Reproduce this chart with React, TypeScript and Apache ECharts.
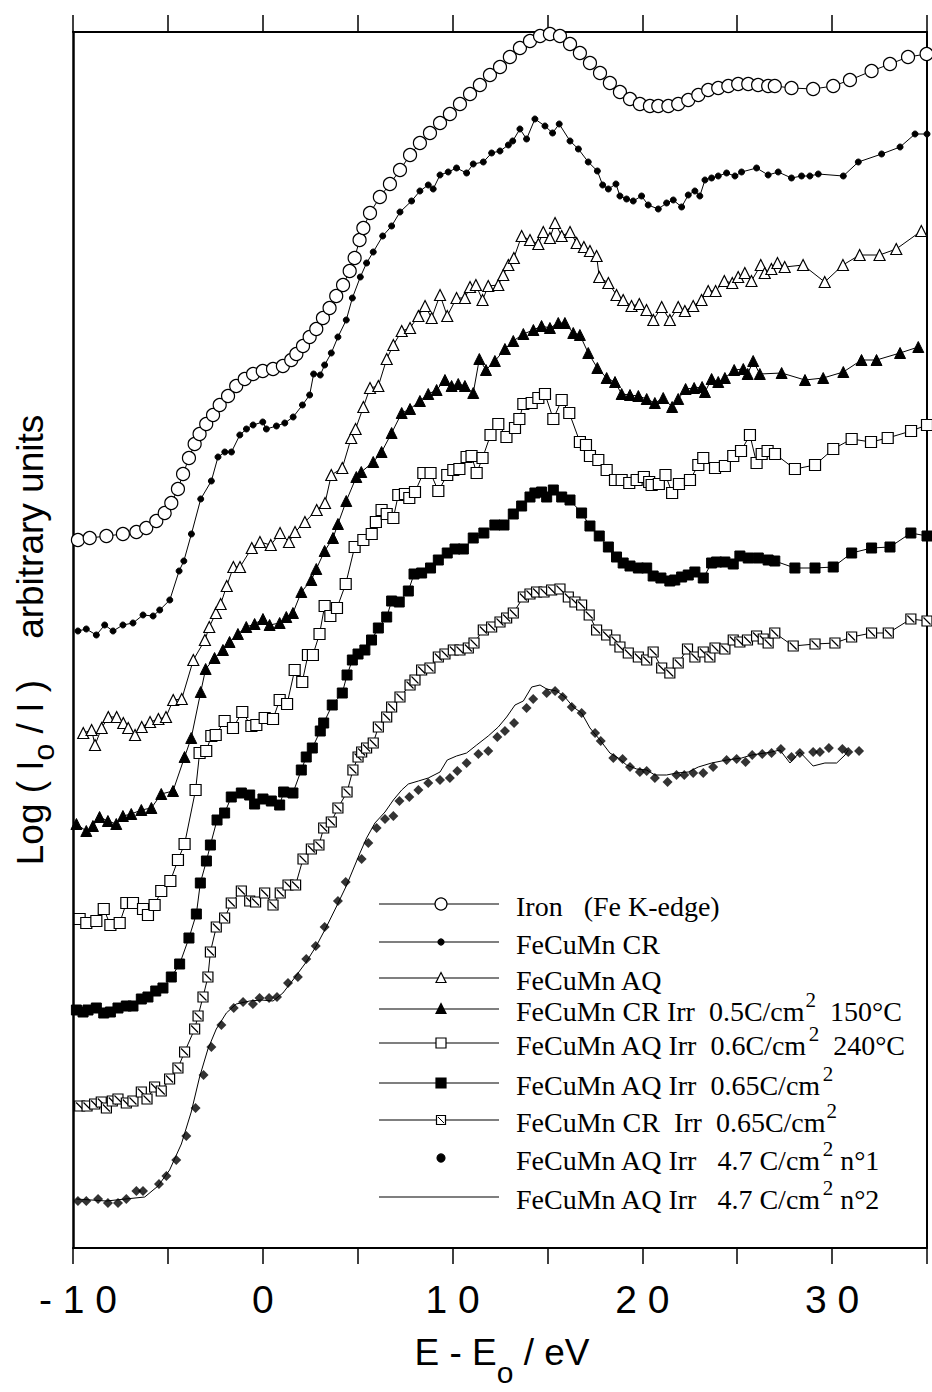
import React, { useEffect, useRef } from "react";
import * as echarts from "echarts";

// ---- Data (x: E - E0 in eV, y: Log(I0/I) in arbitrary, offset units) ----
const IRON: number[][] = [
  [-9.74, 708], [-9.12, 710], [-8.24, 712], [-7.37, 714], [-6.66, 716], [-6.14, 720], [-5.61, 727],
  [-5.17, 735], [-4.82, 745], [-4.47, 759], [-4.2, 774], [-3.89, 790], [-3.59, 804], [-3.33, 814],
  [-2.98, 824], [-2.62, 833], [-2.27, 843], [-1.83, 852], [-1.4, 862], [-0.95, 869], [-0.51, 874],
  [0, 877], [0.54, 879], [1.06, 882], [1.5, 888], [1.77, 894], [2.12, 902], [2.47, 911], [2.82, 919],
  [3.17, 930], [3.52, 940], [3.87, 952], [4.23, 963], [4.58, 977], [4.84, 990], [5.1, 1008],
  [5.3, 1020], [5.65, 1035], [6.17, 1051], [6.7, 1064], [7.23, 1078], [7.76, 1093], [8.28, 1105],
  [8.81, 1115], [9.34, 1125], [9.86, 1134], [10.39, 1144], [10.92, 1154], [11.44, 1163],
  [11.97, 1173], [12.5, 1181], [13.02, 1191], [13.55, 1200], [14.08, 1207], [14.61, 1212],
  [15.13, 1214], [15.66, 1212], [16.19, 1204], [16.71, 1195], [17.24, 1185], [17.77, 1175],
  [18.29, 1165], [18.82, 1156], [19.35, 1149], [19.87, 1144], [20.4, 1142], [20.84, 1142],
  [21.37, 1142], [21.89, 1144], [22.42, 1148], [22.95, 1153], [23.47, 1158], [24.0, 1160],
  [24.53, 1162], [25.05, 1164], [25.58, 1164], [26.1, 1163], [26.63, 1162], [26.98, 1162],
  [27.86, 1160], [29.0, 1159], [30.06, 1162], [30.94, 1168], [32.08, 1177], [33.05, 1184],
  [34.0, 1191], [34.98, 1194],
];

const CR: number[][] = [
  [-9.74, 617], [-9.3, 619], [-8.77, 613], [-8.33, 623], [-7.89, 617], [-7.37, 623], [-6.84, 625],
  [-6.31, 633], [-5.78, 632], [-5.43, 638], [-4.9, 648], [-4.41, 677], [-4.16, 687], [-3.76, 714],
  [-3.27, 749], [-2.71, 767], [-2.36, 791], [-2.0, 796], [-1.65, 796], [-1.21, 813], [-0.86, 819],
  [-0.51, 823], [0.0, 826], [0.19, 819], [0.72, 822], [1.16, 825], [1.6, 831], [2.09, 843],
  [2.47, 853], [2.68, 874], [3.03, 873], [3.26, 883], [3.61, 895], [3.96, 911], [4.4, 928],
  [4.72, 950], [5.14, 971], [5.47, 985], [5.82, 996], [6.32, 1012], [6.79, 1022], [7.23, 1036],
  [7.84, 1047], [8.28, 1057], [8.72, 1063], [8.98, 1059], [9.34, 1073], [9.77, 1076], [10.21, 1080],
  [10.74, 1075], [11.09, 1084], [11.62, 1086], [12.06, 1095], [12.5, 1097], [12.94, 1103],
  [13.17, 1107], [13.55, 1119], [13.9, 1109], [14.34, 1129], [14.87, 1122], [15.27, 1115],
  [15.62, 1124], [16.19, 1107], [16.63, 1099], [17.15, 1086], [17.63, 1077], [17.91, 1063],
  [18.21, 1059], [18.61, 1064], [18.82, 1052], [19.17, 1049], [19.52, 1047], [19.96, 1052],
  [20.31, 1043], [20.84, 1039], [21.28, 1045], [21.63, 1048], [22.07, 1041], [22.42, 1053],
  [22.77, 1057], [23.03, 1052], [23.3, 1068], [23.65, 1070], [24.0, 1072], [24.44, 1075],
  [24.88, 1072], [25.23, 1076], [26.02, 1080], [26.63, 1073], [27.16, 1076], [27.86, 1070],
  [28.39, 1072], [28.83, 1072], [29.27, 1074], [30.59, 1072], [31.38, 1086], [32.61, 1094],
  [33.58, 1101], [34.37, 1114], [35.0, 1114],
];

const AQ: number[][] = [
  [-9.46, 515], [-9.02, 518], [-8.84, 503], [-8.49, 520], [-8.14, 531], [-7.7, 531], [-7.35, 525],
  [-7.09, 520], [-6.73, 513], [-6.38, 521], [-5.94, 526], [-5.5, 529], [-5.1, 531], [-4.72, 548],
  [-4.27, 549], [-3.66, 588], [-3.05, 608], [-2.82, 621], [-2.47, 635], [-2.22, 644], [-1.9, 662],
  [-1.55, 681], [-1.2, 681], [-0.58, 700], [-0.15, 706], [0.42, 703], [0.91, 715], [1.38, 706],
  [1.7, 716], [2.22, 726], [2.84, 738], [3.28, 745], [3.61, 773], [4.19, 780], [4.66, 810],
  [4.89, 819], [5.3, 841], [5.65, 860], [6.09, 862], [6.53, 889], [6.88, 903], [7.32, 917],
  [7.76, 920], [8.2, 932], [8.55, 942], [8.9, 930], [9.34, 953], [9.72, 932], [10.21, 950],
  [10.65, 950], [10.92, 961], [11.23, 963], [11.58, 948], [11.88, 962], [12.41, 963], [12.67, 973],
  [12.94, 983], [13.23, 990], [13.64, 1012], [14.08, 1008], [14.52, 1004], [14.78, 1016],
  [15.13, 1010], [15.4, 1025], [15.75, 1012], [16.19, 1016], [16.54, 1005], [16.92, 1001],
  [17.24, 997], [17.59, 992], [17.73, 971], [18.21, 965], [18.64, 953], [18.99, 948], [19.43, 942],
  [19.84, 944], [20.22, 938], [20.58, 928], [21.02, 941], [21.45, 928], [21.89, 941], [22.24, 937],
  [22.68, 942], [23.12, 948], [23.47, 957], [23.86, 957], [24.32, 967], [24.74, 965], [25.05, 971],
  [25.4, 975], [25.75, 967], [26.24, 983], [26.45, 975], [26.8, 979], [27.12, 985], [27.5, 981],
  [28.47, 983], [29.61, 966], [30.57, 983], [31.45, 993], [32.5, 993], [33.38, 999], [34.7, 1017],
];

const CR_IRR_05: number[][] = [
  [-9.82, 424], [-9.3, 417], [-8.95, 422], [-8.6, 431], [-8.16, 427], [-7.72, 424], [-7.37, 432],
  [-6.93, 434], [-6.4, 438], [-5.87, 440], [-5.35, 454], [-4.73, 457], [-4.12, 491], [-3.77, 510],
  [-3.27, 556], [-3.01, 579], [-2.54, 590], [-2.1, 598], [-1.75, 606], [-1.31, 614], [-0.87, 621],
  [-0.43, 624], [0.01, 629], [0.36, 623], [0.89, 625], [1.24, 631], [1.59, 635], [2.03, 656],
  [2.56, 668], [2.82, 679], [3.26, 697], [3.7, 710], [3.96, 724], [4.4, 747], [4.93, 771],
  [5.19, 776], [5.82, 786], [6.26, 796], [6.79, 815], [7.32, 835], [7.76, 839], [8.28, 847],
  [8.72, 854], [9.16, 858], [9.6, 868], [9.95, 862], [10.3, 864], [10.65, 862], [11.09, 855],
  [11.41, 889], [11.76, 878], [12.23, 887], [12.76, 899], [13.2, 907], [13.73, 914], [14.26, 918],
  [14.69, 922], [15.13, 920], [15.57, 925], [15.92, 925], [16.36, 915], [16.71, 913], [17.15, 895],
  [17.63, 880], [18.12, 870], [18.56, 866], [18.91, 854], [19.35, 853], [19.79, 852], [20.23, 849],
  [20.66, 845], [21.1, 850], [21.57, 841], [21.89, 849], [22.28, 859], [22.73, 860], [23.15, 861],
  [23.3, 856], [23.65, 869], [24.0, 866], [24.35, 870], [24.84, 878], [25.32, 879], [25.55, 874],
  [25.84, 887], [26.19, 874], [27.34, 875], [28.57, 868], [29.53, 870], [30.59, 876], [31.55, 888],
  [32.34, 888], [33.58, 895], [34.54, 901],
];

const AQ_IRR_06: number[][] = [
  [-9.65, 329], [-9.3, 325], [-8.77, 327], [-8.38, 339], [-8.03, 323], [-7.54, 325], [-7.19, 345],
  [-6.84, 345], [-6.31, 339], [-6.05, 333], [-5.7, 343], [-5.35, 357], [-4.87, 367], [-4.47, 388],
  [-4.12, 404], [-3.54, 458], [-3.33, 495], [-2.98, 497], [-2.71, 512], [-2.48, 513], [-2.01, 527],
  [-1.57, 520], [-1.08, 536], [-0.6, 522], [-0.34, 523], [0.1, 530], [0.54, 529], [0.89, 548],
  [1.28, 544], [1.68, 578], [2.08, 566], [2.38, 593], [2.64, 593], [2.99, 614], [3.26, 642],
  [3.56, 632], [3.91, 640], [4.37, 664], [4.84, 701], [5.3, 708], [5.74, 714], [5.96, 726],
  [6.26, 738], [6.53, 734], [6.88, 730], [7.14, 753], [7.49, 754], [7.72, 750], [8.02, 756],
  [8.46, 775], [8.84, 775], [9.25, 757], [9.72, 773], [10.04, 778], [10.36, 779], [10.74, 791],
  [11.0, 792], [11.27, 775], [11.58, 790], [12.0, 813], [12.41, 824], [12.84, 811], [13.29, 820],
  [13.52, 829], [13.73, 844], [14.17, 845], [14.52, 850], [14.87, 854], [15.31, 829], [15.75, 848],
  [16.15, 835], [16.71, 806], [17.03, 803], [17.24, 792], [17.68, 788], [18.12, 778], [18.56, 768],
  [18.91, 768], [19.31, 765], [19.7, 768], [20.08, 771], [20.36, 766], [20.49, 763], [20.87, 764],
  [21.22, 773], [21.57, 755], [21.93, 764], [22.51, 768], [22.95, 783], [23.21, 790], [23.83, 780],
  [24.35, 782], [24.79, 792], [25.2, 797], [25.67, 813], [26.02, 785], [26.29, 794], [26.6, 797],
  [26.99, 794], [28.04, 779], [29.1, 783], [30.06, 799], [31.03, 809], [32.05, 806], [32.93, 810],
  [34.16, 817], [35.0, 823],
];

const AQ_IRR_065: number[][] = [
  [-9.82, 238], [-9.47, 236], [-9.21, 238], [-8.77, 240], [-8.38, 235], [-8.03, 236], [-7.63, 240],
  [-7.19, 242], [-6.84, 242], [-6.4, 249], [-6.05, 251], [-5.64, 257], [-5.26, 260], [-4.82, 271],
  [-4.38, 284], [-3.89, 310], [-3.5, 334], [-3.29, 365], [-2.97, 387], [-2.76, 403], [-2.41, 428],
  [-2.01, 435], [-1.66, 451], [-1.13, 455], [-0.69, 453], [-0.43, 444], [0.01, 449], [0.45, 447],
  [0.89, 443], [1.1, 456], [1.59, 455], [2.03, 478], [2.29, 491], [2.61, 500], [3.03, 517],
  [3.21, 525], [3.66, 543], [4.19, 555], [4.44, 573], [4.72, 588], [5.02, 594], [5.38, 598],
  [5.73, 608], [6.09, 620], [6.53, 631], [6.79, 647], [7.19, 646], [7.67, 657], [7.97, 674],
  [8.37, 675], [8.84, 680], [9.25, 688], [9.72, 695], [10.13, 699], [10.57, 699], [11.09, 710],
  [11.65, 715], [12.23, 723], [12.71, 723], [13.2, 734], [13.64, 742], [14.08, 751], [14.34, 755],
  [14.69, 756], [14.96, 751], [15.31, 758], [15.75, 751], [16.19, 748], [16.8, 735], [17.24, 722],
  [17.73, 712], [18.21, 701], [18.64, 691], [18.99, 685], [19.35, 682], [19.79, 680], [20.23, 680],
  [20.57, 672], [20.98, 670], [21.45, 667], [21.71, 668], [22.07, 671], [22.42, 673], [22.77, 676],
  [23.21, 670], [23.65, 685], [23.91, 686], [24.35, 686], [24.79, 684], [25.14, 692], [25.58, 690],
  [26.11, 690], [26.63, 688], [26.98, 687], [28.04, 680], [29.1, 680], [30.06, 681], [31.03, 695],
  [32.08, 700], [33.05, 701], [34.15, 715], [35.0, 712],
];

const CR_IRR_065: number[][] = [
  [-9.65, 142], [-9.26, 142], [-8.86, 144], [-8.51, 146], [-8.24, 140], [-7.93, 147], [-7.63, 149],
  [-7.19, 145], [-6.84, 147], [-6.4, 156], [-6.1, 149], [-5.7, 161], [-5.35, 157], [-4.91, 169],
  [-4.47, 180], [-4.12, 196], [-3.59, 219], [-3.41, 232], [-3.15, 251], [-2.89, 271], [-2.76, 296],
  [-2.45, 321], [-2.01, 330], [-1.66, 345], [-1.13, 357], [-0.69, 347], [-0.38, 346], [0.1, 355],
  [0.54, 343], [0.92, 355], [1.33, 363], [1.73, 363], [2.12, 389], [2.56, 399], [2.96, 403],
  [3.21, 420], [3.61, 426], [3.96, 440], [4.44, 456], [4.75, 478], [5.02, 491], [5.21, 496],
  [5.47, 500], [5.82, 505], [6.09, 521], [6.53, 531], [6.79, 541], [7.23, 551], [7.76, 563],
  [8.02, 568], [8.37, 578], [8.81, 580], [9.25, 591], [9.6, 594], [10.04, 598], [10.39, 598],
  [10.83, 600], [11.13, 605], [11.62, 618], [12.06, 621], [12.5, 626], [12.85, 630], [13.2, 635],
  [13.73, 651], [14.08, 654], [14.43, 656], [14.82, 656], [15.22, 658], [15.66, 659], [16.1, 651],
  [16.45, 646], [16.8, 643], [17.2, 633], [17.59, 618], [18.12, 613], [18.56, 608], [18.82, 601],
  [19.26, 595], [19.79, 591], [20.23, 588], [20.57, 596], [21.02, 580], [21.45, 575], [21.89, 585],
  [22.38, 599], [22.77, 591], [23.21, 596], [23.56, 591], [23.83, 600], [24.35, 599], [24.79, 608],
  [25.14, 606], [25.54, 608], [26.02, 612], [26.37, 609], [26.63, 605], [26.98, 615], [27.95, 602],
  [29.1, 604], [30.15, 605], [31.03, 611], [32.08, 615], [32.96, 615], [34.15, 629], [35.0, 627],
];

const AQ_IRR_47_N1: number[][] = [
  [-9.74, 47], [-9.3, 47], [-8.68, 49], [-8.16, 45], [-7.63, 45], [-7.19, 49], [-6.66, 57],
  [-6.31, 57], [-5.47, 64], [-5.08, 72], [-4.56, 88], [-4.03, 112], [-3.54, 140], [-3.12, 173],
  [-2.71, 201], [-2.18, 223], [-1.53, 240], [-1.04, 246], [-0.52, 244], [-0.17, 250], [0.33, 250],
  [0.75, 251], [1.33, 265], [1.85, 271], [2.29, 289], [2.79, 302], [3.26, 321], [3.96, 347],
  [4.37, 366], [5.21, 389], [5.56, 405], [6.0, 420], [6.44, 429], [6.88, 432], [7.2, 447],
  [7.72, 451], [8.2, 458], [8.72, 465], [9.34, 468], [9.86, 470], [10.25, 477], [10.74, 485],
  [11.36, 494], [11.88, 497], [12.36, 511], [12.76, 517], [13.24, 525], [13.9, 540], [14.25, 549],
  [14.96, 555], [15.4, 557], [15.8, 551], [16.28, 541], [16.8, 535], [17.51, 515], [17.81, 507],
  [18.47, 490], [18.96, 489], [19.35, 481], [19.87, 476], [20.23, 477], [20.66, 470], [21.33, 466],
  [21.8, 473], [22.21, 473], [22.68, 475], [23.21, 475], [23.73, 481], [24.44, 488], [24.97, 489],
  [25.44, 486], [25.79, 493], [26.32, 494], [26.81, 495], [27.3, 499], [27.86, 491], [28.3, 495],
  [29.0, 496], [29.36, 496], [29.83, 500], [30.54, 499], [30.85, 496], [31.42, 497],
];

const AQ_IRR_47_N2: number[][] = [
  [-9.82, 49], [-8.24, 47], [-6.22, 51], [-5.52, 62], [-4.91, 78], [-4.29, 104], [-3.77, 136],
  [-3.33, 171], [-2.89, 199], [-2.45, 219], [-1.92, 235], [-1.4, 244], [-0.69, 247], [-0.08, 248],
  [0.54, 247], [1.06, 255], [1.59, 268], [2.29, 286], [2.82, 302], [3.35, 321], [3.87, 341],
  [4.4, 362], [5.12, 395], [5.47, 410], [5.91, 425], [6.44, 436], [6.88, 448], [7.32, 458],
  [7.67, 464], [8.2, 467], [8.72, 470], [9.34, 476], [9.72, 488], [10.21, 492], [10.74, 495],
  [11.27, 503], [11.88, 512], [12.41, 521], [12.85, 531], [13.29, 543], [13.73, 547], [14.17, 561],
  [14.61, 563], [14.96, 559], [15.48, 557], [15.92, 551], [16.36, 541], [16.8, 535], [17.24, 520],
  [17.77, 508], [18.29, 495], [18.73, 490], [19.17, 483], [19.7, 479], [20.23, 478], [20.66, 473],
  [21.28, 473], [21.8, 475], [22.42, 476], [22.95, 481], [23.65, 485], [24.44, 488], [25.23, 490],
  [25.76, 493], [26.81, 496], [27.25, 498], [27.78, 485], [28.3, 496], [29.0, 482], [29.62, 485],
  [30.24, 485], [30.68, 493], [30.85, 498],
];

const X_TICK_LABELS: [number, string][] = [
  [-10, "- 1 0"], [0, "0"], [10, "1 0"], [20, "2 0"], [30, "3 0"],
];

const SERIES_NAMES = [
  "Iron (Fe K-edge)", "FeCuMn CR", "FeCuMn AQ", "FeCuMn CR Irr 0.5C/cm2 150°C",
  "FeCuMn AQ Irr 0.6C/cm2 240°C", "FeCuMn AQ Irr 0.65C/cm2", "FeCuMn CR Irr 0.65C/cm2",
  "FeCuMn AQ Irr 4.7 C/cm2 n°1", "FeCuMn AQ Irr 4.7 C/cm2 n°2",
];

// legend labels; "^" marks the superscript 2
const LEGEND_LABELS = [
  "Iron   (Fe K-edge)",
  "FeCuMn CR",
  "FeCuMn AQ",
  "FeCuMn CR Irr  0.5C/cm^2  150°C",
  "FeCuMn AQ Irr  0.6C/cm^2  240°C",
  "FeCuMn AQ Irr  0.65C/cm^2",
  "FeCuMn CR  Irr  0.65C/cm^2",
  "FeCuMn AQ Irr   4.7 C/cm^2 n°1",
  "FeCuMn AQ Irr   4.7 C/cm^2 n°2",
];

const DIAG_SQUARE = "path://M0 0H10V10H0Z M1.5 1.5L8.5 8.5";

type Mk = { symbol: string; size: number; filled: boolean; line: boolean; scatter?: boolean };
const MARKERS: Mk[] = [
  { symbol: "circle", size: 13, filled: false, line: true },
  { symbol: "circle", size: 6, filled: true, line: true },
  { symbol: "triangle", size: 11, filled: false, line: true },
  { symbol: "triangle", size: 11, filled: true, line: true },
  { symbol: "rect", size: 11, filled: false, line: true },
  { symbol: "rect", size: 10, filled: true, line: true },
  { symbol: DIAG_SQUARE, size: 10, filled: false, line: true },
  { symbol: "diamond", size: 10, filled: true, line: false, scatter: true },
  { symbol: "none", size: 0, filled: false, line: true },
];

const DATA = [IRON, CR, AQ, CR_IRR_05, AQ_IRR_06, AQ_IRR_065, CR_IRR_065, AQ_IRR_47_N1, AQ_IRR_47_N2];

const LEGEND_ROWS_Y = [904, 942, 978, 1009, 1043, 1083, 1120, 1158, 1197];

const LEGEND_FONT = "28px 'Liberation Serif'";
const SUP_FONT = "21px 'Liberation Serif'";

function measure(font: string, s: string): number {
  const c = document.createElement("canvas").getContext("2d");
  if (!c) return s.length * 13;
  c.font = font;
  return c.measureText(s).width;
}

function legendMarker(i: number, x: number, y: number): any[] {
  const black = "#000";
  const out: any[] = [];
  const st = (filled: boolean) => ({ fill: filled ? black : "#fff", stroke: black, lineWidth: 1.2 });
  switch (i) {
    case 0:
      out.push({ type: "circle", shape: { cx: x, cy: y, r: 6 }, style: st(false) });
      break;
    case 1:
      out.push({ type: "circle", shape: { cx: x, cy: y, r: 3 }, style: st(true) });
      break;
    case 2:
    case 3:
      out.push({ type: "polygon", shape: { points: [[x, y - 5.5], [x + 5, y + 4.5], [x - 5, y + 4.5]] }, style: st(i === 3) });
      break;
    case 4:
    case 5:
      out.push({ type: "rect", shape: { x: x - 5, y: y - 5, width: 10, height: 10 }, style: st(i === 5) });
      break;
    case 6:
      out.push({ type: "rect", shape: { x: x - 4.5, y: y - 4.5, width: 9, height: 9 }, style: st(false) });
      out.push({ type: "line", shape: { x1: x - 3, y1: y - 3, x2: x + 3, y2: y + 3 }, style: { stroke: black, lineWidth: 1 } });
      break;
    case 7:
      out.push({ type: "circle", shape: { cx: x, cy: y, r: 4 }, style: st(true) });
      break;
  }
  return out;
}

export default function App() {
  const ref = useRef<HTMLDivElement>(null);
  useEffect(() => {
    if (!ref.current) return;
    const chart = echarts.init(ref.current, null, { renderer: "svg" });

    const series: any[] = DATA.map((d, i) => {
      const m = MARKERS[i];
      if (m.scatter) {
        return {
          name: SERIES_NAMES[i], type: "scatter", data: d, symbol: m.symbol, symbolSize: m.size,
          itemStyle: { color: "#000" }, silent: true, z: 3,
        };
      }
      return {
        name: SERIES_NAMES[i], type: "line", data: d,
        symbol: m.symbol, symbolSize: m.size, showSymbol: m.symbol !== "none",
        lineStyle: { color: "#000", width: 1 },
        itemStyle: m.filled
          ? { color: "#000", borderColor: "#000", borderWidth: 1 }
          : { color: "#fff", borderColor: "#000", borderWidth: 1.2 },
        silent: true, z: 2,
      };
    });

    const graphic: any[] = [];
    LEGEND_ROWS_Y.forEach((y, i) => {
      if (MARKERS[i].line) {
        graphic.push({ type: "line", shape: { x1: 379, y1: y, x2: 499, y2: y }, style: { stroke: "#000", lineWidth: 1.2 } });
      }
      legendMarker(i, 441, y).forEach((g) => graphic.push(g));
      const parts = LEGEND_LABELS[i].split("^");
      let x = 516;
      const ty = y + 2;
      graphic.push({
        type: "text", x, y: ty,
        style: { text: parts[0], fill: "#000", font: LEGEND_FONT, align: "left", verticalAlign: "middle" },
      });
      if (parts.length > 1) {
        x += measure(LEGEND_FONT, parts[0]);
        const sup = parts[1].charAt(0);
        const rest = parts[1].slice(1);
        graphic.push({
          type: "text", x: x + 1, y: ty - 11,
          style: { text: sup, fill: "#000", font: SUP_FONT, align: "left", verticalAlign: "middle" },
        });
        x += 1 + measure(SUP_FONT, sup);
        graphic.push({
          type: "text", x, y: ty,
          style: { text: rest, fill: "#000", font: LEGEND_FONT, align: "left", verticalAlign: "middle" },
        });
      }
    });
    // axis titles
    graphic.push({
      type: "text", x: 502, y: 1352,
      style: {
        text: "E - E{b|o} / eV", fill: "#000", font: "37px 'Liberation Sans'",
        align: "center", verticalAlign: "middle",
        rich: { b: { fontSize: 30, fontFamily: "Liberation Sans", padding: [40, 0, 0, 0] } },
      },
    });
    graphic.push({
      type: "text", x: 30, y: 640, rotation: Math.PI / 2,
      style: {
        text: "Log ( I{b|o} / I )    arbitrary units", fill: "#000", font: "37px 'Liberation Sans'",
        align: "center", verticalAlign: "middle",
        rich: { b: { fontSize: 30, fontFamily: "Liberation Sans", padding: [26, 0, 0, 0] } },
      },
    });

    const labelMap: Record<string, string> = {};
    X_TICK_LABELS.forEach(([v, s]) => (labelMap[String(v)] = s));

    chart.setOption({
      animation: false,
      backgroundColor: "#fff",
      grid: { left: 73, right: 5, top: 32, bottom: 144, containLabel: false },
      xAxis: [
        {
          type: "value", min: -10, max: 35, interval: 5, position: "bottom",
          axisLine: { onZero: false, lineStyle: { color: "#000", width: 2 } },
          axisTick: { length: 16, lineStyle: { color: "#000", width: 1.5 } },
          splitLine: { show: false },
          axisLabel: {
            margin: 32, color: "#000", fontSize: 39, fontFamily: "Liberation Sans",
            showMinLabel: true, showMaxLabel: true,
            formatter: (v: number) => {
              const s = labelMap[String(v)] || "";
              return v === -10 ? "{a|" + s + "}" : s;
            },
            rich: { a: { fontSize: 39, fontFamily: "Liberation Sans", padding: [0, 0, 0, 10] } },
          },
        },
        {
          type: "value", min: -10, max: 35, interval: 5, position: "top",
          axisLine: { onZero: false, lineStyle: { color: "#000", width: 2 } },
          axisTick: { length: 17, lineStyle: { color: "#000", width: 1.5 } },
          axisLabel: { show: false }, splitLine: { show: false },
        },
      ],
      yAxis: [
        {
          type: "value", min: 0, max: 1216, position: "left",
          axisLine: { show: true, onZero: false, lineStyle: { color: "#000", width: 2.5 } },
          axisTick: { show: false }, axisLabel: { show: false }, splitLine: { show: false },
        },
        {
          type: "value", min: 0, max: 1216, position: "right",
          axisLine: { show: true, onZero: false, lineStyle: { color: "#000", width: 2 } },
          axisTick: { show: false }, axisLabel: { show: false }, splitLine: { show: false },
        },
      ],
      series,
      graphic,
    });
    return () => chart.dispose();
  }, []);
  return (
    <div
      ref={ref}
      style={{ position: "absolute", left: 0, top: 0, width: 932, height: 1392 }}
    />
  );
}
